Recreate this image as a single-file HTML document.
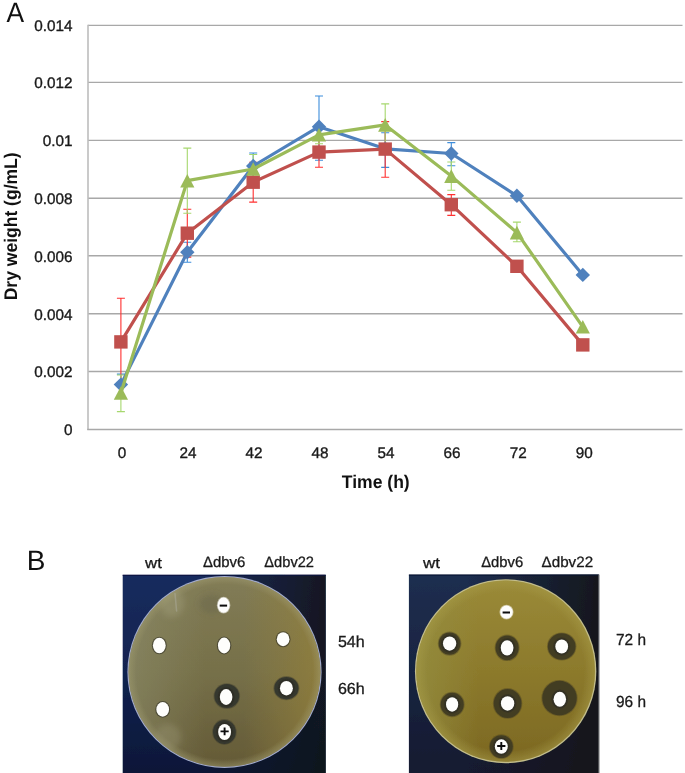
<!DOCTYPE html>
<html><head><meta charset="utf-8"><style>
html,body{margin:0;padding:0;background:#fff;}
svg{display:block;text-rendering:geometricPrecision;will-change:transform;}
text{font-family:"Liberation Sans",sans-serif;fill:#1a1a1a;}
.ax{font-size:15.3px;stroke:#1a1a1a;stroke-width:0.35px;}
.tt{font-size:18.3px;font-weight:bold;fill:#111;}
.pl{font-size:27.6px;fill:#111;}
.lb{font-size:15px;fill:#1a1a1a;stroke:#1a1a1a;stroke-width:0.3px;}
</style></head><body>
<svg width="685" height="773" viewBox="0 0 685 773">
<defs>
<linearGradient id="bgL" x1="0" y1="0" x2="0" y2="1"><stop offset="0" stop-color="#172c5e"/><stop offset="0.5" stop-color="#11224f"/><stop offset="1" stop-color="#0a1738"/></linearGradient>
<linearGradient id="bgLh" x1="0" y1="0" x2="1" y2="0"><stop offset="0.35" stop-color="#121418" stop-opacity="0"/><stop offset="1" stop-color="#121418" stop-opacity="0.85"/></linearGradient>
<linearGradient id="bgR" x1="0" y1="0" x2="0" y2="1"><stop offset="0" stop-color="#1e2e50"/><stop offset="1" stop-color="#121a30"/></linearGradient>
<linearGradient id="bgRh" x1="0" y1="0" x2="1" y2="0"><stop offset="0.3" stop-color="#141518" stop-opacity="0"/><stop offset="1" stop-color="#141518" stop-opacity="0.9"/></linearGradient>
<linearGradient id="plL" x1="0" y1="0" x2="0" y2="1"><stop offset="0" stop-color="#827c56"/><stop offset="0.5" stop-color="#767049"/><stop offset="1" stop-color="#645a36"/></linearGradient>
<linearGradient id="plLh" x1="0" y1="0" x2="1" y2="0"><stop offset="0" stop-color="#8c8c6a" stop-opacity="0.6"/><stop offset="0.4" stop-color="#8c8c6a" stop-opacity="0"/><stop offset="0.6" stop-color="#94803a" stop-opacity="0"/><stop offset="1" stop-color="#94803a" stop-opacity="0.75"/></linearGradient>
<radialGradient id="plLr" cx="0.5" cy="0.5" r="0.5"><stop offset="0.92" stop-color="#a09c70" stop-opacity="0"/><stop offset="1" stop-color="#a09c70" stop-opacity="0.5"/></radialGradient>
<linearGradient id="plR" x1="0" y1="0" x2="0" y2="1"><stop offset="0" stop-color="#9a8a38"/><stop offset="0.5" stop-color="#8c7a2c"/><stop offset="1" stop-color="#7c6822"/></linearGradient>
<linearGradient id="plRh" x1="0" y1="0" x2="1" y2="0"><stop offset="0" stop-color="#948e40" stop-opacity="0.8"/><stop offset="0.35" stop-color="#948e40" stop-opacity="0"/></linearGradient>
<radialGradient id="plRr" cx="0.5" cy="0.5" r="0.5"><stop offset="0.88" stop-color="#a89c48" stop-opacity="0"/><stop offset="1" stop-color="#a89c48" stop-opacity="0.5"/></radialGradient>
<clipPath id="clipL"><ellipse cx="224.5" cy="671.9" rx="95.9" ry="94.8"/></clipPath>
<filter id="blur2" x="-50%" y="-50%" width="200%" height="200%"><feGaussianBlur stdDeviation="3"/></filter>
<filter id="soft" x="-2%" y="-2%" width="104%" height="104%"><feGaussianBlur stdDeviation="0.45"/></filter>
</defs>
<rect width="685" height="773" fill="#fff"/>
<line x1="88" y1="371.57" x2="682.5" y2="371.57" stroke="#a8a8a8" stroke-width="1.45"/>
<line x1="88" y1="313.67" x2="682.5" y2="313.67" stroke="#a8a8a8" stroke-width="1.45"/>
<line x1="88" y1="255.77" x2="682.5" y2="255.77" stroke="#a8a8a8" stroke-width="1.45"/>
<line x1="88" y1="198.15" x2="682.5" y2="198.15" stroke="#a8a8a8" stroke-width="1.45"/>
<line x1="88" y1="140.38" x2="682.5" y2="140.38" stroke="#a8a8a8" stroke-width="1.45"/>
<line x1="88" y1="82.38" x2="682.5" y2="82.38" stroke="#a8a8a8" stroke-width="1.45"/>
<line x1="88" y1="25.38" x2="682.5" y2="25.38" stroke="#a8a8a8" stroke-width="1.45"/>
<line x1="88" y1="24.80" x2="88" y2="429.80" stroke="#bdbdbd" stroke-width="1.6"/>
<line x1="87.2" y1="429.48" x2="682.5" y2="429.48" stroke="#a8a8a8" stroke-width="1.45"/>
<text x="72.6" y="435.38" text-anchor="end" class="ax">0</text>
<text x="72.6" y="377.47" text-anchor="end" class="ax">0.002</text>
<text x="72.6" y="319.57" text-anchor="end" class="ax">0.004</text>
<text x="72.6" y="261.67" text-anchor="end" class="ax">0.006</text>
<text x="72.6" y="204.05" text-anchor="end" class="ax">0.008</text>
<text x="72.6" y="146.28" text-anchor="end" class="ax">0.01</text>
<text x="72.6" y="88.28" text-anchor="end" class="ax">0.012</text>
<text x="72.6" y="31.28" text-anchor="end" class="ax">0.014</text>
<text x="121.90" y="457.6" text-anchor="middle" class="ax">0</text>
<text x="187.94" y="457.6" text-anchor="middle" class="ax">24</text>
<text x="253.98" y="457.6" text-anchor="middle" class="ax">42</text>
<text x="320.02" y="457.6" text-anchor="middle" class="ax">48</text>
<text x="386.06" y="457.6" text-anchor="middle" class="ax">54</text>
<text x="452.10" y="457.6" text-anchor="middle" class="ax">66</text>
<text x="518.14" y="457.6" text-anchor="middle" class="ax">72</text>
<text x="584.18" y="457.6" text-anchor="middle" class="ax">90</text>
<path d="M120.90 374.10V395.10M116.90 374.10H124.90M116.90 395.10H124.90" stroke="#3d8ddb" stroke-width="1.1" fill="none"/>
<path d="M187.30 242.30V262.20M183.30 242.30H191.30M183.30 262.20H191.30" stroke="#3d8ddb" stroke-width="1.1" fill="none"/>
<path d="M253.20 153.00V179.00M249.20 153.00H257.20M249.20 179.00H257.20" stroke="#3d8ddb" stroke-width="1.1" fill="none"/>
<path d="M319.00 96.00V160.30M315.00 96.00H323.00M315.00 160.30H323.00" stroke="#3d8ddb" stroke-width="1.1" fill="none"/>
<path d="M385.20 132.80V167.40M381.20 132.80H389.20M381.20 167.40H389.20" stroke="#3d8ddb" stroke-width="1.1" fill="none"/>
<path d="M451.30 142.60V165.80M447.30 142.60H455.30M447.30 165.80H455.30" stroke="#3d8ddb" stroke-width="1.1" fill="none"/>
<path d="M516.90 193.50V198.10M512.90 193.50H520.90M512.90 198.10H520.90" stroke="#3d8ddb" stroke-width="1.1" fill="none"/>
<path d="M120.90 298.30V385.50M116.90 298.30H124.90M116.90 385.50H124.90" stroke="#ff3030" stroke-width="1.1" fill="none"/>
<path d="M187.30 209.30V257.10M183.30 209.30H191.30M183.30 257.10H191.30" stroke="#ff3030" stroke-width="1.1" fill="none"/>
<path d="M253.20 162.30V202.10M249.20 162.30H257.20M249.20 202.10H257.20" stroke="#ff3030" stroke-width="1.1" fill="none"/>
<path d="M319.00 136.80V167.30M315.00 136.80H323.00M315.00 167.30H323.00" stroke="#ff3030" stroke-width="1.1" fill="none"/>
<path d="M385.20 121.60V177.20M381.20 121.60H389.20M381.20 177.20H389.20" stroke="#ff3030" stroke-width="1.1" fill="none"/>
<path d="M451.30 194.60V215.40M447.30 194.60H455.30M447.30 215.40H455.30" stroke="#ff3030" stroke-width="1.1" fill="none"/>
<path d="M516.90 262.50V270.10M512.90 262.50H520.90M512.90 270.10H520.90" stroke="#ff3030" stroke-width="1.1" fill="none"/>
<path d="M120.90 375.00V411.60M116.90 375.00H124.90M116.90 411.60H124.90" stroke="#a6d86e" stroke-width="1.1" fill="none"/>
<path d="M187.30 148.10V213.30M183.30 148.10H191.30M183.30 213.30H191.30" stroke="#a6d86e" stroke-width="1.1" fill="none"/>
<path d="M253.20 154.50V183.50M249.20 154.50H257.20M249.20 183.50H257.20" stroke="#a6d86e" stroke-width="1.1" fill="none"/>
<path d="M319.00 126.00V143.70M315.00 126.00H323.00M315.00 143.70H323.00" stroke="#a6d86e" stroke-width="1.1" fill="none"/>
<path d="M385.20 103.90V145.90M381.20 103.90H389.20M381.20 145.90H389.20" stroke="#a6d86e" stroke-width="1.1" fill="none"/>
<path d="M451.30 162.00V190.20M447.30 162.00H455.30M447.30 190.20H455.30" stroke="#a6d86e" stroke-width="1.1" fill="none"/>
<path d="M516.90 222.10V241.70M512.90 222.10H520.90M512.90 241.70H520.90" stroke="#a6d86e" stroke-width="1.1" fill="none"/>
<polyline points="120.90,384.60 187.30,252.20 253.20,166.00 319.00,126.70 385.20,148.80 451.30,153.50 516.90,195.80 582.80,274.90" fill="none" stroke="#4f81bd" stroke-width="3.2" stroke-linejoin="round"/>
<path d="M120.90 377.40L128.10 384.60L120.90 391.80L113.70 384.60Z" fill="#4f81bd"/>
<path d="M187.30 245.00L194.50 252.20L187.30 259.40L180.10 252.20Z" fill="#4f81bd"/>
<path d="M253.20 158.80L260.40 166.00L253.20 173.20L246.00 166.00Z" fill="#4f81bd"/>
<path d="M319.00 119.50L326.20 126.70L319.00 133.90L311.80 126.70Z" fill="#4f81bd"/>
<path d="M385.20 141.60L392.40 148.80L385.20 156.00L378.00 148.80Z" fill="#4f81bd"/>
<path d="M451.30 146.30L458.50 153.50L451.30 160.70L444.10 153.50Z" fill="#4f81bd"/>
<path d="M516.90 188.60L524.10 195.80L516.90 203.00L509.70 195.80Z" fill="#4f81bd"/>
<path d="M582.80 267.70L590.00 274.90L582.80 282.10L575.60 274.90Z" fill="#4f81bd"/>
<polyline points="120.90,341.90 187.30,233.20 253.20,182.20 319.00,152.10 385.20,149.10 451.30,204.70 516.90,266.30 582.80,344.90" fill="none" stroke="#c0504d" stroke-width="3.2" stroke-linejoin="round"/>
<rect x="114.20" y="335.20" width="13.40" height="13.40" fill="#c0504d"/>
<rect x="180.60" y="226.50" width="13.40" height="13.40" fill="#c0504d"/>
<rect x="246.50" y="175.50" width="13.40" height="13.40" fill="#c0504d"/>
<rect x="312.30" y="145.40" width="13.40" height="13.40" fill="#c0504d"/>
<rect x="378.50" y="142.40" width="13.40" height="13.40" fill="#c0504d"/>
<rect x="444.60" y="198.00" width="13.40" height="13.40" fill="#c0504d"/>
<rect x="510.20" y="259.60" width="13.40" height="13.40" fill="#c0504d"/>
<rect x="576.10" y="338.20" width="13.40" height="13.40" fill="#c0504d"/>
<polyline points="120.90,393.00 187.30,180.70 253.20,169.00 319.00,134.80 385.20,124.90 451.30,176.10 516.90,232.60 582.80,326.80" fill="none" stroke="#9bbb59" stroke-width="3.2" stroke-linejoin="round"/>
<path d="M120.90 386.20L128.00 399.80L113.80 399.80Z" fill="#9bbb59"/>
<path d="M187.30 173.90L194.40 187.50L180.20 187.50Z" fill="#9bbb59"/>
<path d="M253.20 162.20L260.30 175.80L246.10 175.80Z" fill="#9bbb59"/>
<path d="M319.00 128.00L326.10 141.60L311.90 141.60Z" fill="#9bbb59"/>
<path d="M385.20 118.10L392.30 131.70L378.10 131.70Z" fill="#9bbb59"/>
<path d="M451.30 169.30L458.40 182.90L444.20 182.90Z" fill="#9bbb59"/>
<path d="M516.90 225.80L524.00 239.40L509.80 239.40Z" fill="#9bbb59"/>
<path d="M582.80 320.00L589.90 333.60L575.70 333.60Z" fill="#9bbb59"/>
<text x="341.8" y="487.8" class="tt" textLength="67.9" lengthAdjust="spacingAndGlyphs">Time (h)</text>
<text transform="translate(16.7,300.3) rotate(-90)" x="0" y="0" class="tt" textLength="147.9" lengthAdjust="spacingAndGlyphs">Dry weight (g/mL)</text>
<text x="6.4" y="22.4" class="pl" style="font-size:28px" textLength="17.6" lengthAdjust="spacingAndGlyphs">A</text>
<text x="26.8" y="570.4" class="pl" style="font-size:28px">B</text>
<g filter="url(#soft)">
<rect x="122.7" y="574.8" width="203" height="198.2" fill="url(#bgL)"/>
<rect x="122.7" y="574.8" width="203" height="198.2" fill="url(#bgLh)"/>
<rect x="122.7" y="574.8" width="203" height="1" fill="#0a1440"/>
<ellipse cx="224.5" cy="671.9" rx="97.1" ry="96.0" fill="#a2aacb"/>
<ellipse cx="224.5" cy="671.9" rx="95.9" ry="94.8" fill="url(#plL)"/>
<ellipse cx="224.5" cy="671.9" rx="95.9" ry="94.8" fill="url(#plLh)"/>
<ellipse cx="224.5" cy="671.9" rx="95.9" ry="94.8" fill="url(#plLr)"/>
<g clip-path="url(#clipL)"><g filter="url(#blur2)">
<ellipse cx="172" cy="603" rx="12" ry="14" fill="#a8a684" opacity="0.35"/>
<ellipse cx="212" cy="604" rx="13" ry="10" fill="#5e5e48" opacity="0.3"/>
<ellipse cx="168" cy="737" rx="13" ry="13" fill="#a09a78" opacity="0.35"/>
</g></g>
<path d="M175 593.5L176.6 611" stroke="#b4b4ac" stroke-width="1.5" opacity="0.4" stroke-linecap="round"/>
<ellipse cx="223.6" cy="605.2" rx="6.75" ry="8.4" fill="#fdfdfb" opacity="0.5"/>
<ellipse cx="223.6" cy="605.2" rx="5.95" ry="7.6" fill="#fefefc"/>
<rect x="219.7" y="604.6" width="7.4" height="2" fill="#0c0c0c"/>
<ellipse cx="159.3" cy="645.5" rx="7.5" ry="8.75" fill="#2e2e24" opacity="0.6"/>
<ellipse cx="159.3" cy="645.5" rx="6.4" ry="7.65" fill="#fefefc"/>
<ellipse cx="224.1" cy="645.5" rx="7.25" ry="9.0" fill="#2e2e24" opacity="0.6"/>
<ellipse cx="224.1" cy="645.5" rx="6.15" ry="7.9" fill="#fefefc"/>
<ellipse cx="283.1" cy="639.2" rx="7.449999999999999" ry="8.05" fill="#2e2e24" opacity="0.6"/>
<ellipse cx="283.1" cy="639.2" rx="6.35" ry="6.95" fill="#fefefc"/>
<ellipse cx="162.7" cy="709.4" rx="7.449999999999999" ry="8.4" fill="#2e2e24" opacity="0.6"/>
<ellipse cx="162.7" cy="709.4" rx="6.35" ry="7.3" fill="#fefefc"/>
<ellipse cx="226.8" cy="696.1" rx="13.3" ry="12.9" fill="#36372e" opacity="0.4"/>
<ellipse cx="226.8" cy="696.1" rx="12.4" ry="12.0" fill="#36372e"/>
<ellipse cx="226.1" cy="697.0" rx="8.5" ry="10.100000000000001" fill="#24261f" opacity="0.35"/>
<ellipse cx="226.1" cy="697.0" rx="7.4" ry="9.0" fill="#2e2e24" opacity="0.6"/>
<ellipse cx="226.1" cy="697.0" rx="6.3" ry="7.9" fill="#fefefc"/>
<ellipse cx="286.4" cy="688.2" rx="13.0" ry="12.1" fill="#36372e" opacity="0.4"/>
<ellipse cx="286.4" cy="688.2" rx="12.1" ry="11.2" fill="#36372e"/>
<ellipse cx="286.4" cy="688.2" rx="8.65" ry="9.4" fill="#24261f" opacity="0.35"/>
<ellipse cx="286.4" cy="688.2" rx="7.550000000000001" ry="8.3" fill="#2e2e24" opacity="0.6"/>
<ellipse cx="286.4" cy="688.2" rx="6.45" ry="7.2" fill="#fefefc"/>
<ellipse cx="224.4" cy="732.0" rx="12.3" ry="12.9" fill="#36372e" opacity="0.4"/>
<ellipse cx="224.4" cy="732.0" rx="11.4" ry="12.0" fill="#36372e"/>
<ellipse cx="224.6" cy="732.0" rx="8.65" ry="10.2" fill="#24261f" opacity="0.35"/>
<ellipse cx="224.6" cy="732.0" rx="7.550000000000001" ry="9.1" fill="#2e2e24" opacity="0.6"/>
<ellipse cx="224.6" cy="732.0" rx="6.45" ry="8.0" fill="#fefefc"/>
<path d="M220.5 731.4H228.7M224.6 727.5V735.3" stroke="#0c0c0c" stroke-width="1.9"/>
</g>
<g filter="url(#soft)">
<rect x="408.9" y="574.6" width="190.0" height="198.4" fill="url(#bgR)"/>
<rect x="408.9" y="574.6" width="190.0" height="198.4" fill="url(#bgRh)"/>
<rect x="408.9" y="574.6" width="190.0" height="1" fill="#0a1230"/>
<ellipse cx="505.65" cy="671.2" rx="90.7" ry="92.0" fill="#c2bc8a"/>
<ellipse cx="505.65" cy="671.2" rx="89.3" ry="90.6" fill="url(#plR)"/>
<ellipse cx="505.65" cy="671.2" rx="89.3" ry="90.6" fill="url(#plRh)"/>
<ellipse cx="505.65" cy="671.2" rx="89.3" ry="90.6" fill="url(#plRr)"/>
<rect x="598.6" y="574.6" width="1.2" height="198.4" fill="#a8a8aa"/>
<ellipse cx="506.5" cy="612.1" rx="7.05" ry="7.45" fill="#fdfdfb" opacity="0.5"/>
<ellipse cx="506.5" cy="612.1" rx="6.25" ry="6.65" fill="#fefefc"/>
<rect x="502.6" y="611.5" width="7.4" height="2" fill="#0c0c0c"/>
<ellipse cx="449.6" cy="643.6" rx="11.8" ry="12.1" fill="#433d24" opacity="0.4"/>
<ellipse cx="449.6" cy="643.6" rx="10.9" ry="11.2" fill="#433d24"/>
<ellipse cx="449.6" cy="643.6" rx="8.850000000000001" ry="9.3" fill="#24261f" opacity="0.35"/>
<ellipse cx="449.6" cy="643.6" rx="7.75" ry="8.2" fill="#2e2e24" opacity="0.6"/>
<ellipse cx="449.6" cy="643.6" rx="6.65" ry="7.1" fill="#fefefc"/>
<ellipse cx="507.1" cy="647.8" rx="12.5" ry="13.25" fill="#433d24" opacity="0.4"/>
<ellipse cx="507.1" cy="647.8" rx="11.6" ry="12.35" fill="#433d24"/>
<ellipse cx="507.1" cy="647.8" rx="8.55" ry="9.8" fill="#24261f" opacity="0.35"/>
<ellipse cx="507.1" cy="647.8" rx="7.449999999999999" ry="8.7" fill="#2e2e24" opacity="0.6"/>
<ellipse cx="507.1" cy="647.8" rx="6.35" ry="7.6" fill="#fefefc"/>
<ellipse cx="561.7" cy="646.5" rx="14.75" ry="14.1" fill="#433d24" opacity="0.4"/>
<ellipse cx="561.7" cy="646.5" rx="13.85" ry="13.2" fill="#433d24"/>
<ellipse cx="561.7" cy="646.5" rx="8.600000000000001" ry="9.15" fill="#24261f" opacity="0.35"/>
<ellipse cx="561.7" cy="646.5" rx="7.5" ry="8.05" fill="#2e2e24" opacity="0.6"/>
<ellipse cx="561.7" cy="646.5" rx="6.4" ry="6.95" fill="#fefefc"/>
<ellipse cx="452.2" cy="704.5" rx="12.450000000000001" ry="12.65" fill="#433d24" opacity="0.4"/>
<ellipse cx="452.2" cy="704.5" rx="11.55" ry="11.75" fill="#433d24"/>
<ellipse cx="452.1" cy="704.4" rx="8.3" ry="9.45" fill="#24261f" opacity="0.35"/>
<ellipse cx="452.1" cy="704.4" rx="7.199999999999999" ry="8.35" fill="#2e2e24" opacity="0.6"/>
<ellipse cx="452.1" cy="704.4" rx="6.1" ry="7.25" fill="#fefefc"/>
<ellipse cx="507.6" cy="703.4" rx="14.75" ry="15.4" fill="#433d24" opacity="0.4"/>
<ellipse cx="507.6" cy="703.4" rx="13.85" ry="14.5" fill="#433d24"/>
<ellipse cx="507.6" cy="703.4" rx="8.9" ry="9.45" fill="#24261f" opacity="0.35"/>
<ellipse cx="507.6" cy="703.4" rx="7.800000000000001" ry="8.35" fill="#2e2e24" opacity="0.6"/>
<ellipse cx="507.6" cy="703.4" rx="6.7" ry="7.25" fill="#fefefc"/>
<ellipse cx="559.5" cy="698.1" rx="18.15" ry="18.15" fill="#433d24" opacity="0.4"/>
<ellipse cx="559.5" cy="698.1" rx="17.25" ry="17.25" fill="#433d24"/>
<ellipse cx="559.8" cy="699.2" rx="8.45" ry="9.65" fill="#24261f" opacity="0.35"/>
<ellipse cx="559.8" cy="699.2" rx="7.35" ry="8.55" fill="#2e2e24" opacity="0.6"/>
<ellipse cx="559.8" cy="699.2" rx="6.25" ry="7.45" fill="#fefefc"/>
<ellipse cx="501.3" cy="746.6" rx="12.4" ry="12.3" fill="#433d24" opacity="0.4"/>
<ellipse cx="501.3" cy="746.6" rx="11.5" ry="11.4" fill="#433d24"/>
<ellipse cx="501.3" cy="746.6" rx="8.7" ry="9.45" fill="#24261f" opacity="0.35"/>
<ellipse cx="501.3" cy="746.6" rx="7.6" ry="8.35" fill="#2e2e24" opacity="0.6"/>
<ellipse cx="501.3" cy="746.6" rx="6.5" ry="7.25" fill="#fefefc"/>
<path d="M497.2 746.0H505.4M501.3 742.1V749.9" stroke="#0c0c0c" stroke-width="1.9"/>
</g>
<text x="145" y="567.6" class="lb" textLength="16.8" lengthAdjust="spacingAndGlyphs">wt</text>
<text x="203" y="567.3" class="lb" textLength="42.3" lengthAdjust="spacingAndGlyphs">Δdbv6</text>
<text x="264.3" y="567.3" class="lb" textLength="49.7" lengthAdjust="spacingAndGlyphs">Δdbv22</text>
<text x="423" y="567.6" class="lb" textLength="16.9" lengthAdjust="spacingAndGlyphs">wt</text>
<text x="481.2" y="567.3" class="lb" textLength="42.0" lengthAdjust="spacingAndGlyphs">Δdbv6</text>
<text x="541.6" y="567.3" class="lb" textLength="51.5" lengthAdjust="spacingAndGlyphs">Δdbv22</text>
<text x="337.9" y="647.2" class="lb" style="font-size:16px" textLength="26.8" lengthAdjust="spacingAndGlyphs">54h</text>
<text x="337.9" y="694.4" class="lb" style="font-size:16px" textLength="26.8" lengthAdjust="spacingAndGlyphs">66h</text>
<text x="616.0" y="644.8" class="lb" style="font-size:16px" textLength="30.0" lengthAdjust="spacingAndGlyphs">72 h</text>
<text x="616.0" y="706.6" class="lb" style="font-size:16px" textLength="30.0" lengthAdjust="spacingAndGlyphs">96 h</text>
</svg>
</body></html>
